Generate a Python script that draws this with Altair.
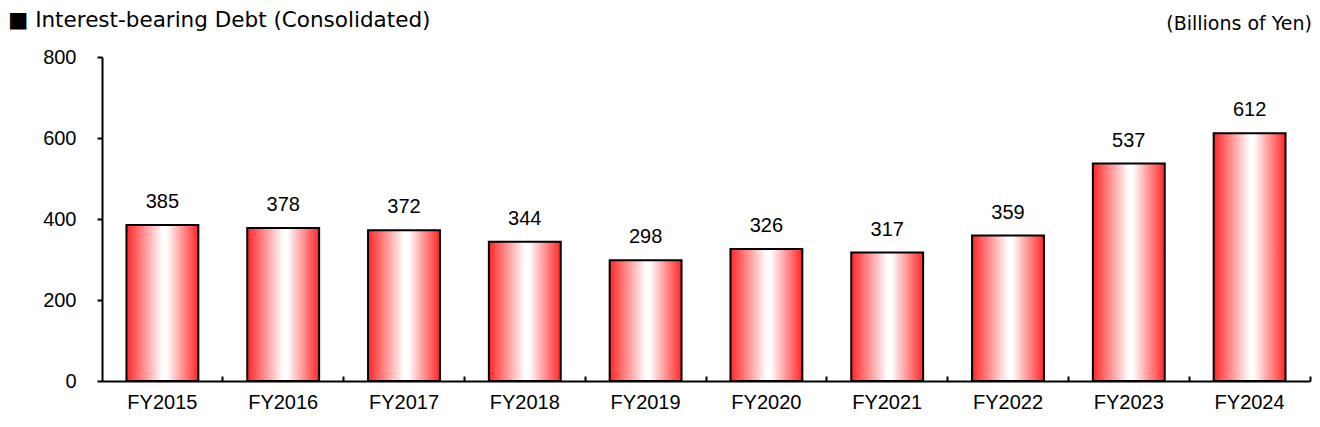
import altair as alt
import pandas as pd

categories = ["FY2015", "FY2016", "FY2017", "FY2018", "FY2019",
              "FY2020", "FY2021", "FY2022", "FY2023", "FY2024"]
values = [385, 378, 372, 344, 298, 326, 317, 359, 537, 612]
y_ticks = [0, 200, 400, 600, 800]
title_text = "■ Interest-bearing Debt (Consolidated)"
unit_text = "(Billions of Yen)"

W, H = 1208, 324
FONT = "Liberation Sans"
TFONT = "DejaVu Sans"

df = pd.DataFrame({"cat": categories, "val": values})

gradient = alt.Gradient(
    gradient="linear", x1=0, y1=0, x2=1, y2=0,
    stops=[
        alt.GradientStop(offset=0, color="#ff2626"),
        alt.GradientStop(offset=0.5, color="#ffffff"),
        alt.GradientStop(offset=0.56, color="#ffffff"),
        alt.GradientStop(offset=1, color="#ff2626"),
    ],
)

xscale = alt.Scale(domain=categories, paddingInner=0, paddingOuter=0)
yscale = alt.Scale(domain=[0, 800], nice=False)

yaxis = alt.Axis(values=y_ticks, grid=False, domainColor="black",
                 domainWidth=2, tickColor="black", tickWidth=2,
                 tickSize=5, labelFont=FONT, labelFontSize=20,
                 labelColor="black", labelPadding=21)

base = alt.Chart(df)

bars = base.mark_bar(
    width={"band": 0.595}, fill=gradient, stroke="black", strokeWidth=2
).encode(
    x=alt.X("cat:N", scale=xscale, sort=categories, title=None,
            axis=alt.Axis(orient="bottom", labelAngle=0, ticks=False,
                          domainColor="black", domainWidth=2, labelFont=FONT,
                          labelFontSize=20, labelColor="black",
                          labelPadding=11)),
    y=alt.Y("val:Q", scale=yscale, title=None, axis=yaxis),
)

# boundary ticks between categories, pointing up from the x axis
xticks = base.mark_point(opacity=0).encode(
    x=alt.X("cat:N", scale=xscale, sort=categories, title=None,
            axis=alt.Axis(orient="top", offset=-H, labels=False,
                          domain=False, ticks=True, tickColor="black",
                          tickWidth=2, tickSize=5, bandPosition=1,
                          grid=False)),
)

labels = base.mark_text(
    baseline="bottom", dy=-13, font=FONT, fontSize=20, color="black"
).encode(
    x=alt.X("cat:N", scale=xscale, sort=categories, axis=None),
    y=alt.Y("val:Q", scale=yscale, title=None, axis=yaxis),
    text=alt.Text("val:Q"),
)

title = alt.Chart(pd.DataFrame({"t": [title_text]})).mark_text(
    align="left", baseline="middle", font=TFONT, fontSize=21.5, color="black"
).encode(text="t:N", x=alt.value(-94), y=alt.value(-36))

unit = alt.Chart(pd.DataFrame({"t": [unit_text]})).mark_text(
    align="right", baseline="middle", font=TFONT, fontSize=19, color="black"
).encode(text="t:N", x=alt.value(W + 2), y=alt.value(-33))

chart = alt.layer(bars, xticks, labels, title, unit).resolve_axis(
    x="independent"
).properties(
    width=W, height=H,
    autosize=alt.AutoSizeParams(type="none"),
    padding={"left": 94, "top": 49, "right": 2, "bottom": 34},
).configure(background="white").configure_view(stroke=None)

chart.save("out.html", embed_options={"renderer": "svg", "actions": False})
